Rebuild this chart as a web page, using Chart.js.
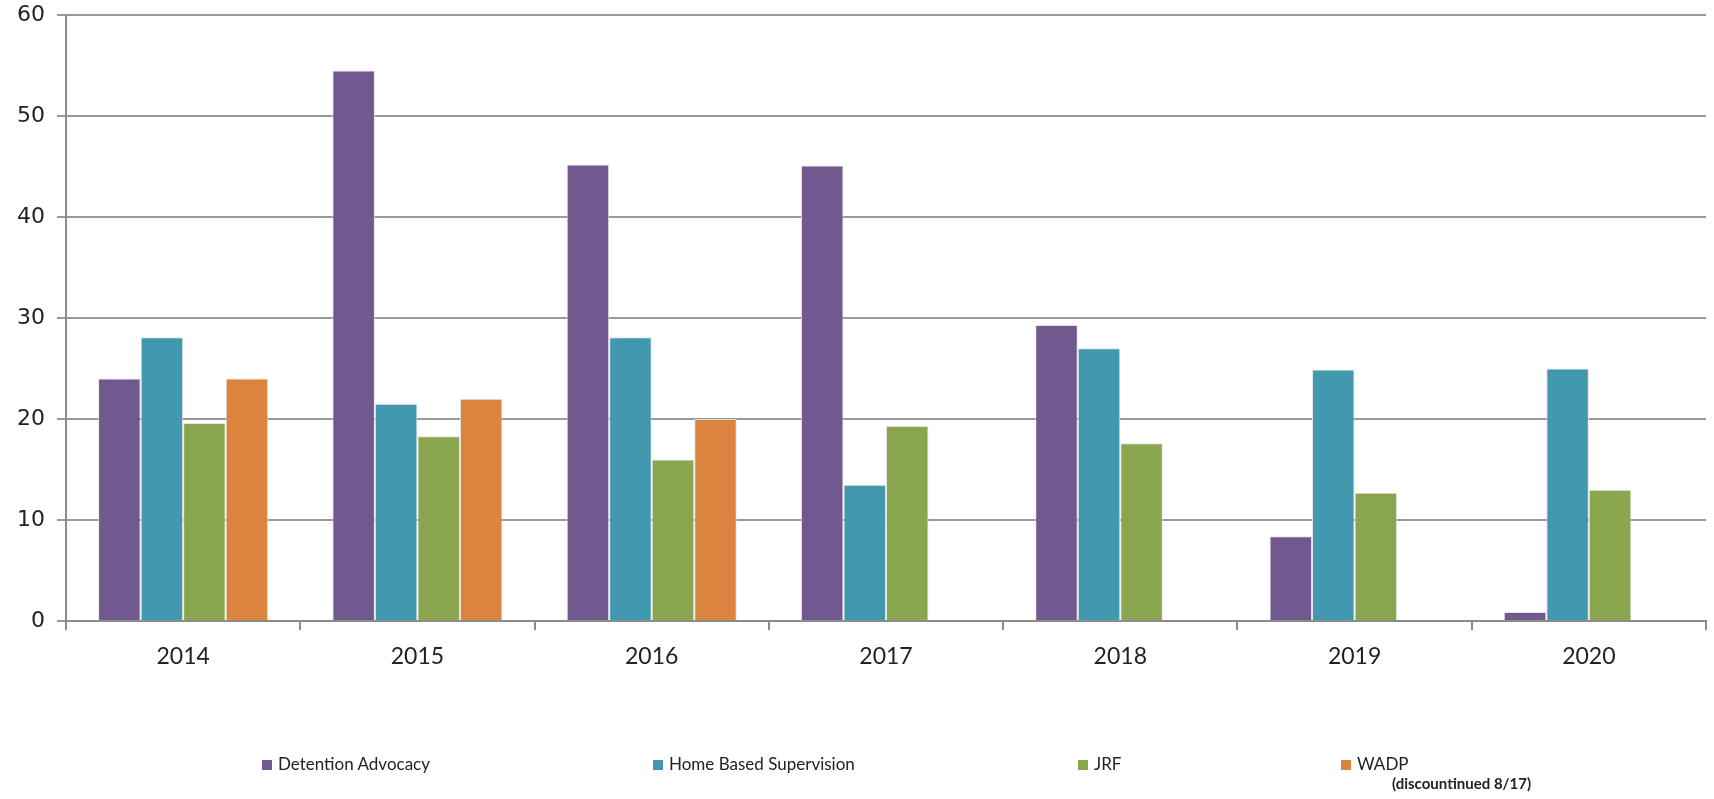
<!DOCTYPE html>
<html>
<head>
<meta charset="utf-8">
<script src="https://cdn.jsdelivr.net/npm/chart.js@4"></script>
<style>
  html, body { margin: 0; padding: 0; background: #fff; }
  #wrap { position: relative; width: 1714px; height: 799px; }
  .leg { position: absolute; font-family: Lato, "Open Sans", sans-serif; font-size: 17px; color: #222; white-space: nowrap; line-height: 18px; }
  .leg i { display: inline-block; width: 10px; height: 10px; margin-right: 6px; vertical-align: 0px; }
  .note { position: absolute; font-family: Lato, "Open Sans", sans-serif; font-size: 15px; font-weight: bold; color: #222; white-space: nowrap; }
</style>
</head>
<body>
<div id="wrap">
  <canvas id="chart" width="1714" height="799"></canvas>
  <div class="leg" style="left:262px; top:755px;"><i style="background:#71588F"></i>Detention Advocacy</div>
  <div class="leg" style="left:653px; top:755px;"><i style="background:#4198AF"></i>Home Based Supervision</div>
  <div class="leg" style="left:1078px; top:755px;"><i style="background:#89A54E"></i>JRF</div>
  <div class="leg" style="left:1341px; top:755px;"><i style="background:#DB843D"></i>WADP</div>
  <div class="note" style="left:1392px; top:774px;">(discountinued 8/17)</div>
</div>
<script>
// ============================
// DATA
// ============================

const years = ['2014', '2015', '2016', '2017', '2018', '2019', '2020'];

const detentionAdvocacy = [24, 54.5, 45.2, 45.1, 29.3, 8.4, 0.9];
const homeBased = [28.1, 21.5, 28.1, 13.5, 27.0, 24.9, 25.0];
const jrf = [19.6, 18.3, 16.0, 19.3, 17.6, 12.7, 13.0];
const wadp = [24, 22, 20, null, null, null, null];

const yTicks = [0, 10, 20, 30, 40, 50, 60];

// ============================
// CHART
// ============================

function serie(label, data, color) {
    return {
        label: label,
        data: data,
        backgroundColor: color,
        borderColor: 'rgba(225,225,225,0.9)',
        borderWidth: 1,
        borderSkipped: 'bottom',
        categoryPercentage: 0.726,
        barPercentage: 1
    };
}

new Chart(document.getElementById('chart'), {

    type: 'bar',

    data: {
        labels: years,
        datasets: [
            serie('Detention Advocacy', detentionAdvocacy, '#71588F'),
            serie('Home Based Supervision', homeBased, '#4198AF'),
            serie('JRF', jrf, '#89A54E'),
            serie('WADP', wadp, '#DB843D')
        ]
    },

    options: {
        responsive: false,
        animation: false,
        devicePixelRatio: 1,
        layout: { padding: { top: 15, right: 8, bottom: 0, left: 0 } },
        plugins: {
            legend: { display: false },
            tooltip: { enabled: false }
        },
        scales: {
            x: {
                afterFit: (s) => { s.height = 178; },
                grid: {
                    drawOnChartArea: false,
                    drawTicks: true,
                    tickLength: 9,
                    color: '#8c8c8c',
                    lineWidth: 2
                },
                border: { color: '#8c8c8c', width: 2 },
                ticks: {
                    color: '#222',
                    padding: 13,
                    font: { family: 'Lato', size: 23 }
                }
            },
            y: {
                min: 0,
                max: 60,
                afterFit: (s) => {
                    s.width = 66;
                    s.paddingTop = 0;
                    s.paddingBottom = 0;
                },
                afterBuildTicks: (s) => { s.ticks = yTicks.map(v => ({ value: v })); },
                grid: {
                    color: '#999999',
                    lineWidth: 2,
                    tickLength: 9
                },
                border: { color: '#8c8c8c', width: 2 },
                ticks: {
                    color: '#222',
                    padding: 12,
                    font: { family: 'DejaVu Sans', size: 22 }
                }
            }
        }
    }

});
</script>
</body>
</html>
